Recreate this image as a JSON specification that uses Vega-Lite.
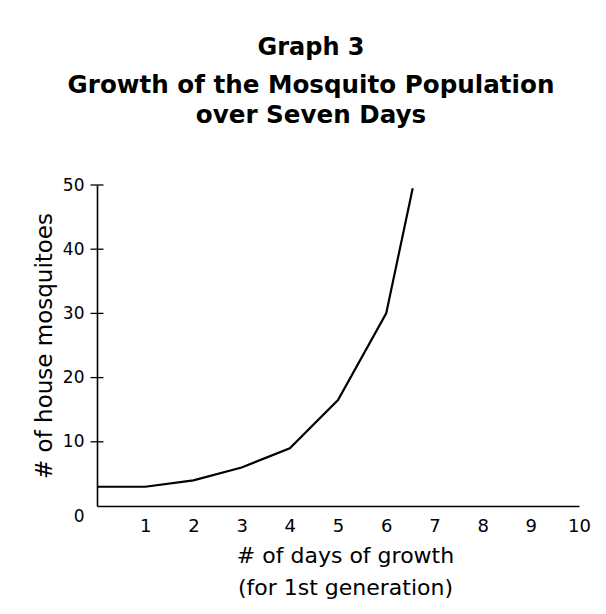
{
  "$schema": "https://vega.github.io/schema/vega-lite/v6.json",
  "width": 482,
  "height": 321,
  "autosize": "none",
  "padding": {"left": 97, "top": 185, "right": 27, "bottom": 108},
  "background": "white",
  "title": {
    "text": "Graph 3",
    "subtitle": ["Growth of the Mosquito Population", "over Seven Days"],
    "anchor": "middle",
    "dx": -27,
    "dy": 7,
    "offset": 55,
    "font": "DejaVu Sans",
    "fontSize": 24,
    "fontWeight": "bold",
    "color": "black",
    "subtitleFont": "DejaVu Sans",
    "subtitleFontSize": 24.6,
    "subtitleFontWeight": "bold",
    "subtitleColor": "black",
    "subtitleLineHeight": 30,
    "subtitlePadding": 14
  },
  "datasets": {
    "growth": [
      {"day": 0, "mosquitoes": 3},
      {"day": 1, "mosquitoes": 3},
      {"day": 2, "mosquitoes": 4},
      {"day": 3, "mosquitoes": 6},
      {"day": 4, "mosquitoes": 9},
      {"day": 5, "mosquitoes": 16.5},
      {"day": 6, "mosquitoes": 30},
      {"day": 6.55, "mosquitoes": 49.5}
    ],
    "ticks": [
      {"day": 0, "mosquitoes": 10}, {"day": 0, "mosquitoes": 20}, {"day": 0, "mosquitoes": 30}, {"day": 0, "mosquitoes": 40}, {"day": 0, "mosquitoes": 50}
    ]
  },
  "encoding": {
    "x": {
      "field": "day",
      "type": "quantitative",
      "scale": {"domain": [0, 10], "nice": false},
      "axis": {
        "values": [1, 2, 3, 4, 5, 6, 7, 8, 9, 10],
        "grid": false,
        "ticks": false,
        "domainColor": "black",
        "domainWidth": 1.6,
        "labelPadding": 11,
        "labelFlush": false,
        "labelFont": "DejaVu Sans",
        "labelFontSize": 18,
        "labelColor": "black",
        "title": ["# of days of growth", "(for 1st generation)"],
        "titleFont": "DejaVu Sans",
        "titleFontSize": 22,
        "titleFontWeight": "normal",
        "titleColor": "black",
        "titleLineHeight": 32,
        "titlePadding": 10,
        "titleX": 248
      }
    },
    "y": {
      "field": "mosquitoes",
      "type": "quantitative",
      "scale": {"domain": [0, 50], "nice": false},
      "axis": {
        "values": [0, 10, 20, 30, 40, 50],
        "grid": false,
        "ticks": false,
        "domainColor": "black",
        "domainWidth": 1.6,
        "labelPadding": 13,
        "labelFlush": false,
        "labelOffset": {"condition": {"test": "datum.value === 0", "value": 10}, "value": 0},
        "labelFont": "DejaVu Sans",
        "labelFontSize": 17,
        "labelColor": "black",
        "title": "# of house mosquitoes",
        "titleFont": "DejaVu Sans",
        "titleFontSize": 23,
        "titleFontWeight": "normal",
        "titleColor": "black",
        "titlePadding": 6
      }
    }
  },
  "layer": [
    {
      "data": {"name": "growth"},
      "mark": {"type": "line", "color": "black", "strokeWidth": 2.2, "clip": false}
    },
    {
      "data": {"name": "ticks"},
      "mark": {"type": "tick", "orient": "horizontal", "color": "black", "opacity": 1, "size": 13, "thickness": 1.3}
    }
  ],
  "config": {
    "view": {"stroke": null}
  }
}
